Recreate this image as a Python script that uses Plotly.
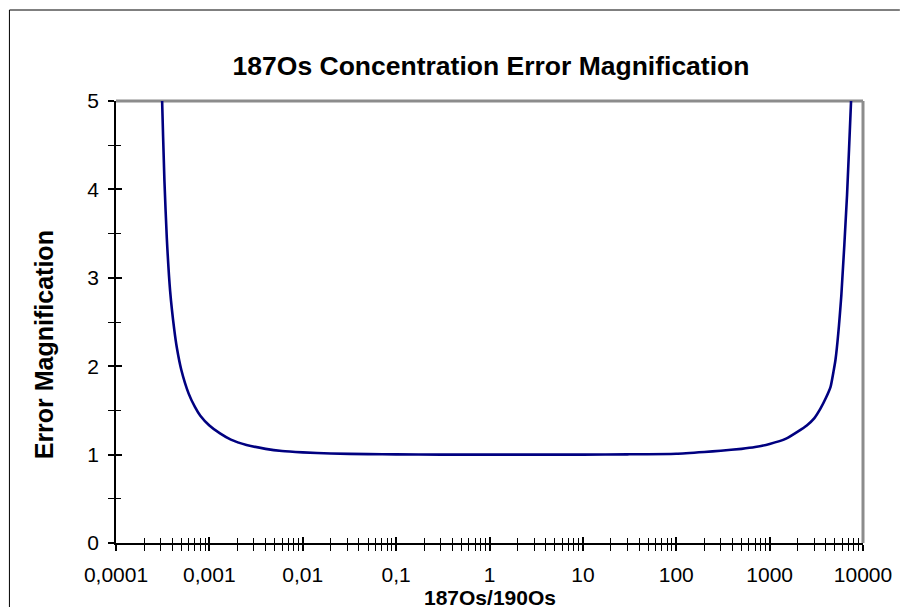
import plotly.graph_objects as go

# ---- data ----
ratio = [0.000305, 0.00031, 0.00033, 0.00035, 0.00038, 0.00042, 0.00045, 0.0005,
         0.0006, 0.0007, 0.0008, 0.001, 0.0013, 0.0017, 0.0025, 0.004, 0.006,
         0.01, 0.02, 0.05, 0.1, 0.3, 1, 3, 10, 30, 100, 200, 300, 500, 700,
         1000, 1500, 2000, 2500, 3000, 3500, 4000, 4500, 4850, 5070, 5860,
         6750, 7450, 7600]
magnification = [5.6, 5.1, 4.1, 3.45, 2.85, 2.42, 2.2, 1.96,
                 1.69, 1.54, 1.44, 1.33, 1.24, 1.17, 1.11, 1.065, 1.04,
                 1.025, 1.012, 1.005, 1.002, 1.0, 1.0, 1.0, 1.0, 1.003, 1.01, 1.03, 1.044, 1.065, 1.085,
                 1.12, 1.18, 1.26, 1.33, 1.41, 1.52, 1.64, 1.77, 1.95, 2.07, 2.8,
                 3.94, 5.0, 5.2]

x_major_vals = [0.0001, 0.001, 0.01, 0.1, 1, 10, 100, 1000, 10000]
x_major_text = ["0,0001", "0,001", "0,01", "0,1", "1", "10", "100", "1000", "10000"]
x_minor_vals = [m * d for d in x_major_vals[:-1] for m in range(2, 10)]

y_major_vals = [0, 1, 2, 3, 4, 5]
y_major_text = ["0", "1", "2", "3", "4", "5"]
y_minor_vals = [0.5, 1.5, 2.5, 3.5, 4.5]

title_text = "187Os Concentration Error Magnification"
x_title = "187Os/190Os"
y_title = "Error Magnification"

FONT = "Liberation Sans, Arial, Helvetica, sans-serif"
W, H = 904, 608
L, R, T, B = 116, 866, 101, 543


def px_x(p):
    return (p - L) / (R - L)


def px_y(p):
    return (B - p) / (B - T)


fig = go.Figure()
fig.add_trace(go.Scatter(x=ratio, y=magnification, mode="lines",
                         line=dict(color="#000080", width=2.6, shape="spline", smoothing=0.5),
                         showlegend=False, hoverinfo="skip"))
# invisible helper trace so the overlay axes (inside tick halves) are rendered
fig.add_trace(go.Scatter(x=[1], y=[1], xaxis="x2", yaxis="y2", mode="markers",
                         marker=dict(opacity=0), showlegend=False, hoverinfo="skip"))

tickfont = dict(family=FONT, size=21, color="black")

common_x = dict(type="log", range=[-4, 4], showgrid=False, zeroline=False,
                tickmode="array", tickvals=x_major_vals, tickwidth=2, ticklen=6,
                tickcolor="black")
common_y = dict(range=[0, 5], showgrid=False, zeroline=False,
                tickmode="array", tickvals=y_major_vals, tickwidth=2, ticklen=6,
                tickcolor="black")

fig.update_layout(
    width=W, height=H,
    margin=dict(l=L, r=W - R, t=T, b=H - B),
    paper_bgcolor="white", plot_bgcolor="white",
    title=dict(text="<b>" + title_text + "</b>", x=(L + R) / 2 / W, xanchor="center",
               y=1 - 66 / H, yanchor="middle",
               font=dict(family=FONT, size=26.5, color="black")),
    xaxis=dict(**common_x, ticktext=x_major_text, ticks="outside",
               showline=True, linecolor="black", linewidth=1.5,
               tickfont=tickfont, ticklabelstandoff=6, ticklabeloverflow="allow",
               minor=dict(tickmode="array", tickvals=x_minor_vals, ticks="outside",
                          ticklen=6, tickwidth=1, tickcolor="black")),
    xaxis2=dict(**common_x, overlaying="x", anchor="y", side="bottom",
                ticks="inside", showticklabels=False, showline=False,
                minor=dict(tickmode="array", tickvals=x_minor_vals, ticks="inside",
                           ticklen=5, tickwidth=1, tickcolor="black")),
    yaxis=dict(**common_y, ticktext=y_major_text, ticks="outside",
               showline=True, linecolor="black", linewidth=1.5,
               tickfont=tickfont, ticklabelstandoff=5,
               minor=dict(tickmode="array", tickvals=y_minor_vals, ticks="outside",
                          ticklen=6, tickwidth=1, tickcolor="black")),
    yaxis2=dict(**common_y, overlaying="y", anchor="x", side="left",
                ticks="inside", showticklabels=False, showline=False,
                minor=dict(tickmode="array", tickvals=y_minor_vals, ticks="inside",
                           ticklen=5, tickwidth=1, tickcolor="black")),
    shapes=[
        # outer chart frame (top and left edges; the rest lies outside the view)
        dict(type="line", xref="paper", yref="paper",
             x0=px_x(9), x1=px_x(903), y0=px_y(10), y1=px_y(10),
             line=dict(color="black", width=1), layer="below"),
        dict(type="line", xref="paper", yref="paper",
             x0=px_x(9), x1=px_x(9), y0=px_y(10), y1=px_y(607),
             line=dict(color="black", width=1), layer="below"),
        # grey top and right plot-area borders
        dict(type="line", xref="paper", yref="paper", x0=0, x1=1, y0=1, y1=1,
             line=dict(color="#8c8c8c", width=3), layer="below"),
        dict(type="line", xref="paper", yref="paper", x0=1, x1=1, y0=0, y1=1,
             line=dict(color="#8c8c8c", width=3), layer="below"),
    ],
    annotations=[
        dict(text="<b>" + x_title + "</b>", xref="paper", yref="paper",
             x=0.5, y=px_y(597), xanchor="center", yanchor="middle",
             showarrow=False, font=dict(family=FONT, size=21, color="black")),
        dict(text="<b>" + y_title + "</b>", xref="paper", yref="paper",
             x=px_x(44), y=px_y(345), xanchor="center", yanchor="middle",
             textangle=-90, showarrow=False, font=dict(family=FONT, size=25, color="black")),
    ],
)

fig.write_html("out.html", config={"displayModeBar": False},
               post_script="document.body.style.margin='0';document.body.style.overflow='hidden';")
